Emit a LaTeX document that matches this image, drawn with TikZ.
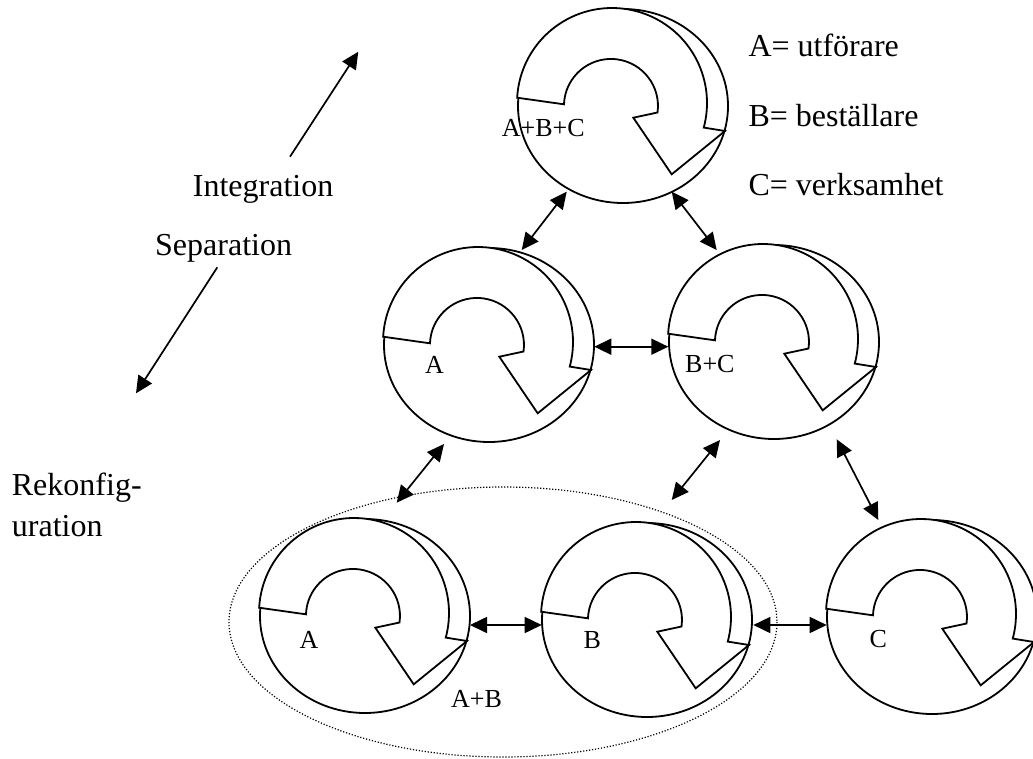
\documentclass[tikz,border=0pt]{standalone}
\usepackage{fontspec}
\setmainfont{Liberation Serif}
\usetikzlibrary{arrows.meta}
\tikzset{
  cycline/.style={line width=1.8, draw=black, fill=white, line join=miter},
  cyc/.pic={
    \draw[cycline] (0,0) ellipse [x radius=105, y radius=97];
    \draw[cycline] (-105.85,-8.3) arc[start angle=-176.8, end angle=15, radius=95]
      -- (102,25) -- (48.7,68.3) -- (10.3,11.7) -- (34.5,6.5)
      arc[start angle=8, end angle=-178, radius=47] -- cycle;
  },
  lbl/.style={inner sep=0, anchor=base west, font=\fontsize{26}{30}\selectfont},
  big/.style={inner sep=0, anchor=base west, font=\fontsize{32}{40}\selectfont},
  dbl/.style={{Triangle[length=17pt,width=16pt]}-{Triangle[length=17pt,width=16pt]}, line width=1.7},
  sgl/.style={-{Triangle[length=17pt,width=16pt]}, line width=1.7},
  grp/.style={line width=1.2, dash pattern=on 1.2pt off 1.8pt}
}
\begin{document}
\begin{tikzpicture}[x=1pt,y=-1pt]
\useasboundingbox (0,0) rectangle (1033,758);
% group ellipse
\draw[grp] (503,622) ellipse [x radius=274, y radius=135];
% circles
\coordinate (cT) at (623,106);
\coordinate (cML) at (489,345);
\coordinate (cMR) at (774,342);
\coordinate (cBA) at (365,616);
\coordinate (cBB) at (647,620);
\coordinate (cBC) at (932,617);
\pic at (cT) {cyc};
\pic at (cML) {cyc};
\pic at (cMR) {cyc};
\pic at (cBA) {cyc};
\pic at (cBB) {cyc};
\pic at (cBC) {cyc};
% labels
\node[lbl] (lT) at (501.7,136.7) {A+B+C};
\node[lbl] (lML) at (425,373.3) {A};
\node[lbl] (lMR) at (685,372.7) {B+C};
\node[lbl] (lBA) at (299.3,648.3) {A};
\node[lbl] (lBB) at (583.3,648.3) {B};
\node[lbl] (lBC) at (869.3,647.7) {C};
\node[lbl] (lAB) at (451,707.3) {A+B};
% legend
\node[big] (legA) at (748.3,56.7) {A= utförare};
\node[big] (legB) at (748.3,126) {B= beställare};
\node[big] (legC) at (748.3,195) {C= verksamhet};
\node[big] (integ) at (192.7,196.7) {Integration};
\node[big] (sep) at (155,255) {Separation};
\node[big] (rek1) at (11.7,495) {Rekonfig-};
\node[big] (rek2) at (11.7,536.7) {uration};
% arrow end points
\coordinate (a1s) at (566.7,191.7); \coordinate (a1e) at (521.7,250);
\coordinate (a2s) at (671.7,191.7); \coordinate (a2e) at (716.7,250);
\coordinate (a3s) at (594.3,346.7); \coordinate (a3e) at (668.3,346.7);
\coordinate (a4s) at (444,444);     \coordinate (a4e) at (396.7,502.7);
\coordinate (a5s) at (720,440);     \coordinate (a5e) at (671.7,500);
\coordinate (a6s) at (836.7,439.3); \coordinate (a6e) at (878.3,520);
\coordinate (a7s) at (470,625);     \coordinate (a7e) at (541.7,625);
\coordinate (a8s) at (753.3,625);   \coordinate (a8e) at (826.7,625);
\coordinate (i1) at (290,156.7);    \coordinate (i2) at (358.3,51.7);
\coordinate (s1) at (217.3,267.3);  \coordinate (s2) at (136,393.3);
\draw[dbl] (a1s) -- (a1e);
\draw[dbl] (a2s) -- (a2e);
\draw[dbl] (a3s) -- (a3e);
\draw[dbl] (a4s) -- (a4e);
\draw[dbl] (a5s) -- (a5e);
\draw[dbl] (a6s) -- (a6e);
\draw[dbl] (a7s) -- (a7e);
\draw[dbl] (a8s) -- (a8e);
\draw[sgl] (i1) -- (i2);
\draw[sgl] (s1) -- (s2);
\end{tikzpicture}
\end{document}
